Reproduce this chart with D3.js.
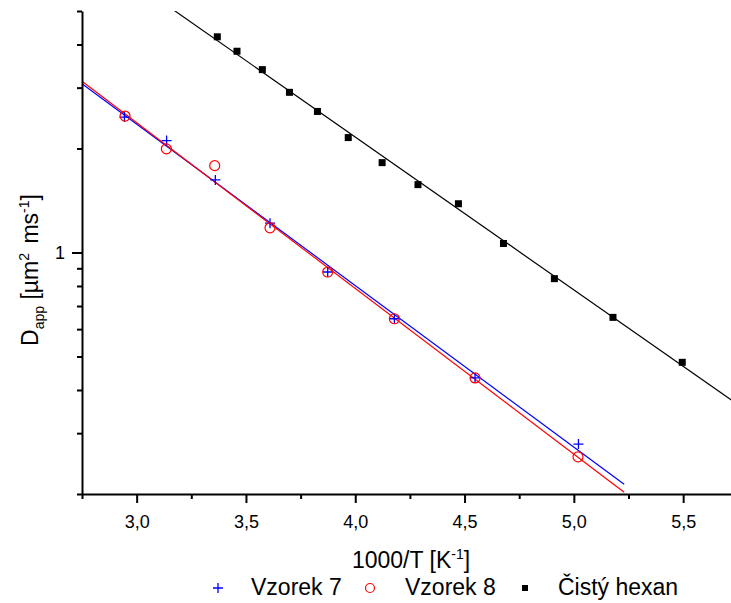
<!DOCTYPE html>
<html>
<head>
<meta charset="utf-8">
<script src="https://cdn.jsdelivr.net/npm/d3@7"></script>
<style>
  html, body { margin: 0; padding: 0; background: #fff; }
  svg { display: block; }
</style>
</head>
<body>
<svg id="chart"></svg>
<script>
// x = 1000/T [1/K], y = D_app [um^2/ms]
const vzorek7X = [2.944, 3.137, 3.360, 3.610, 3.874, 4.179, 4.548, 5.021];
const vzorek7Y = [2.466, 2.109, 1.622, 1.216, 0.878, 0.643, 0.4335, 0.2789];

const vzorek8X = [2.947, 3.136, 3.357, 3.610, 3.874, 4.179, 4.548, 5.019];
const vzorek8Y = [2.483, 1.995, 1.784, 1.179, 0.878, 0.643, 0.4335, 0.2562];

const hexanX = [3.369, 3.459, 3.575, 3.699, 3.827, 3.968, 4.123, 4.287, 4.472, 4.678, 4.911, 5.179, 5.496];
const hexanY = [4.210, 3.824, 3.383, 2.908, 2.560, 2.151, 1.820, 1.572, 1.384, 1.062, 0.840, 0.649, 0.481];

// fitted lines, end points
const fit7X = [2.75, 5.23];
const fit7Y = [3.08, 0.2135];
const fit8X = [2.75, 5.23];
const fit8Y = [3.13, 0.2023];
const fitHexX = [3.16, 5.75];
const fitHexY = [5.08, 0.363];

const xMajor = [3.0, 3.5, 4.0, 4.5, 5.0, 5.5];
const xMinor = [2.75, 3.25, 3.75, 4.25, 4.75, 5.25];
const yMajor = [1];
const yMinor = [0.2, 0.3, 0.4, 0.5, 0.6, 0.7, 0.8, 0.9, 2, 3, 4, 5];

const legendNames = ["Vzorek 7", "Vzorek 8", "Čistý hexan"];

(function() {
  const FONT = "Arial, 'Liberation Sans', sans-serif";
  const BLUE = "#0000ff";
  const RED = "#ff0000";
  const INK = "#000";

  const width = 731, height = 603;
  const left = 82, bottom = 494, top = 11;

  const svg = d3.select("#chart")
    .attr("width", width)
    .attr("height", height)
    .attr("font-family", FONT);

  const x = d3.scaleLinear().domain([2.75, 5.75]).range([left, left + 6 * 109.3]);
  const y = d3.scaleLog().domain([0.2, 5]).range([bottom, top]);

  svg.append("defs").append("clipPath").attr("id", "plot-clip")
    .append("rect")
    .attr("x", left).attr("y", top)
    .attr("width", width - left).attr("height", bottom - top);

  const plot = svg.append("g").attr("clip-path", "url(#plot-clip)");

  // fit lines
  const zip = (xs, ys) => xs.map((v, i) => [v, ys[i]]);
  const line = d3.line().x(d => x(d[0])).y(d => y(d[1]));

  [[fit7X, fit7Y, BLUE], [fit8X, fit8Y, RED], [fitHexX, fitHexY, INK]].forEach(([xs, ys, c]) => {
    plot.append("path")
      .datum(zip(xs, ys))
      .attr("fill", "none")
      .attr("stroke", c)
      .attr("stroke-width", 1.2)
      .attr("d", line);
  });

  // markers
  const plusPath = "M-5,0H5M0,-5V5";

  plot.selectAll(".v7")
    .data(zip(vzorek7X, vzorek7Y))
    .join("path")
    .attr("class", "v7")
    .attr("transform", d => `translate(${x(d[0])},${y(d[1])})`)
    .attr("d", plusPath)
    .attr("stroke", BLUE)
    .attr("stroke-width", 1.3)
    .attr("fill", "none");

  plot.selectAll(".v8")
    .data(zip(vzorek8X, vzorek8Y))
    .join("circle")
    .attr("class", "v8")
    .attr("cx", d => x(d[0]))
    .attr("cy", d => y(d[1]))
    .attr("r", 5)
    .attr("stroke", RED)
    .attr("stroke-width", 1.2)
    .attr("fill", "none");

  plot.selectAll(".hex")
    .data(zip(hexanX, hexanY))
    .join("rect")
    .attr("class", "hex")
    .attr("x", d => x(d[0]) - 3.5)
    .attr("y", d => y(d[1]) - 3.5)
    .attr("width", 7)
    .attr("height", 7)
    .attr("fill", INK);

  // axes
  const fmtX = d => d.toFixed(1).replace(".", ",");

  svg.append("g")
    .attr("transform", `translate(0,${bottom})`)
    .call(d3.axisBottom(x).tickValues(xMajor).tickSize(9).tickSizeOuter(0).tickPadding(12).tickFormat(fmtX));
  svg.append("g")
    .attr("transform", `translate(0,${bottom})`)
    .call(d3.axisBottom(x).tickValues(xMinor).tickSize(5).tickSizeOuter(0).tickFormat(""))
    .select(".domain").remove();

  svg.append("g")
    .attr("transform", `translate(${left},0)`)
    .call(d3.axisLeft(y).tickValues(yMajor).tickSize(10).tickSizeOuter(0).tickPadding(7).tickFormat(d3.format("d")));
  svg.append("g")
    .attr("transform", `translate(${left},0)`)
    .call(d3.axisLeft(y).tickValues(yMinor).tickSize(5).tickSizeOuter(0).tickFormat(""))
    .select(".domain").remove();

  svg.selectAll(".domain, .tick line")
    .attr("stroke", INK)
    .attr("stroke-width", 2);
  svg.selectAll(".tick text")
    .attr("font-family", FONT)
    .attr("font-size", 18)
    .attr("fill", INK);

  // axis titles
  const xTitle = svg.append("text")
    .attr("x", 411)
    .attr("y", 568)
    .attr("text-anchor", "middle")
    .attr("font-size", 23)
    .attr("fill", INK);
  xTitle.append("tspan").text("1000/T [K");
  xTitle.append("tspan").attr("font-size", 14).attr("dy", -9).text("-1");
  xTitle.append("tspan").attr("dy", 9).text("]");

  const yTitle = svg.append("text")
    .attr("transform", "translate(38,270) rotate(-90)")
    .attr("text-anchor", "middle")
    .attr("font-size", 23)
    .attr("fill", INK);
  yTitle.append("tspan").text("D");
  yTitle.append("tspan").attr("font-size", 14).attr("dy", 6).text("app");
  yTitle.append("tspan").attr("dy", -6).text(" [µm");
  yTitle.append("tspan").attr("font-size", 14).attr("dy", -9).text("2");
  yTitle.append("tspan").attr("dy", 9).attr("dx", 3).text(" ms");
  yTitle.append("tspan").attr("font-size", 14).attr("dy", -9).text("-1");
  yTitle.append("tspan").attr("dy", 9).text("]");

  // legend
  const legY = 588;
  const legend = svg.append("g");
  legend.append("path")
    .attr("transform", `translate(218,${legY})`)
    .attr("d", plusPath)
    .attr("stroke", BLUE).attr("stroke-width", 1.3).attr("fill", "none");
  legend.append("circle")
    .attr("cx", 370).attr("cy", legY).attr("r", 4.5)
    .attr("stroke", RED).attr("stroke-width", 1.2).attr("fill", "none");
  legend.append("rect")
    .attr("x", 522).attr("y", legY - 3).attr("width", 6).attr("height", 6)
    .attr("fill", INK);

  legend.selectAll("text")
    .data(legendNames)
    .join("text")
    .attr("x", (d, i) => [251, 405, 558][i])
    .attr("y", 595)
    .attr("font-size", 23)
    .attr("fill", INK)
    .text(d => d);
})();
</script>
</body>
</html>
